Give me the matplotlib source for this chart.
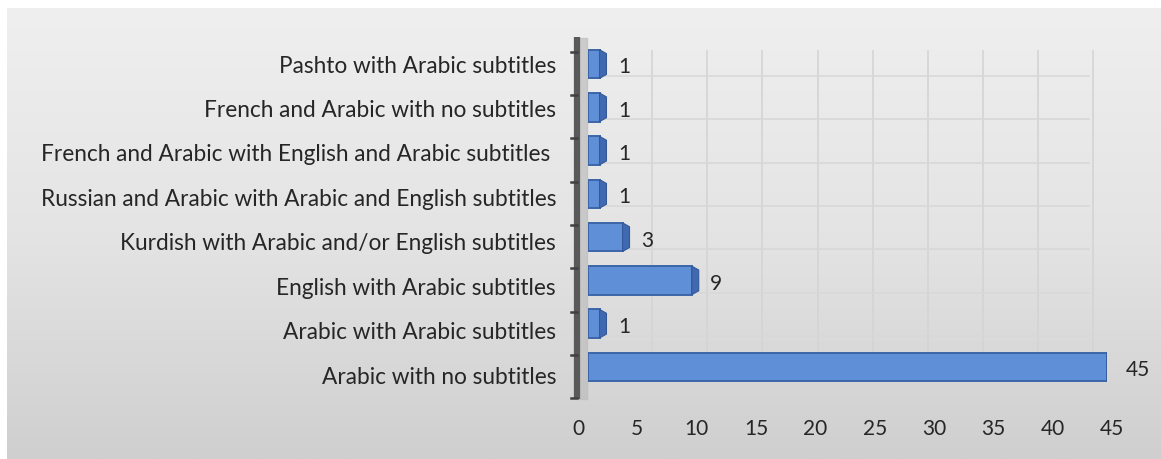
import numpy as np
import matplotlib
matplotlib.use("Agg")
import matplotlib.pyplot as plt
import matplotlib.transforms as mtransforms
from matplotlib.patches import Polygon
from matplotlib.colors import LinearSegmentedColormap

categories = [
    "Arabic with no subtitles",
    "Arabic with Arabic subtitles",
    "English with Arabic subtitles",
    "Kurdish with Arabic and/or English subtitles",
    "Russian and Arabic with Arabic and English subtitles",
    "French and Arabic with English and Arabic subtitles ",
    "French and Arabic with no subtitles",
    "Pashto with Arabic subtitles",
]
counts = [45, 1, 9, 3, 1, 1, 1, 1]
x_ticks = [0, 5, 10, 15, 20, 25, 30, 35, 40, 45]

plt.rcParams["font.family"] = ["Lato", "DejaVu Sans"]

W, H = 1161, 459
fig = plt.figure(figsize=(W / 100, H / 100), dpi=100, facecolor="white")

# grey gradient panel behind everything
bg = fig.add_axes([7 / W, 0, 1 - 7 / W, 1 - 8 / H], zorder=0)
grad = np.linspace(0, 1, 256).reshape(-1, 1)
cmap = LinearSegmentedColormap.from_list("g", ["#efefef", "#e4e4e4", "#cfcfcf"])
bg.imshow(grad, aspect="auto", cmap=cmap, extent=[0, 1, 0, 1])
bg.axis("off")

# main plotting area (bar front faces)
x0, x1 = 588, 1107
y_top, y_bot = 42.4, 388.6
ax = fig.add_axes([x0 / W, 1 - y_bot / H, (x1 - x0) / W, (y_bot - y_top) / H], zorder=2)
ax.patch.set_alpha(0)
ax.set_xlim(0, 45)
ax.set_ylim(-0.5, len(categories) - 0.5)

ypos = np.arange(len(categories))

# back wall grid (slightly offset, as in the 3-D chart)
for v in range(5, 50, 5):
    ax.plot([v * 0.955 + 0.8, v * 0.955 + 0.8], [-0.35, 7.3], color="#d4d4d4", lw=1.2, zorder=0)
for b in np.arange(-0.5, 7.5, 1.0):
    ax.plot([-0.1, 43.4], [b + 0.22, b + 0.22], color="#d8d8d8", lw=1.2, zorder=0)

# bars with a 3-D looking side face
h = 0.66
depth, lift = 0.6, 0.09
ax.barh(ypos, counts, height=h, color="#5f8fd6", edgecolor="#3d65a8", lw=1.4, zorder=3)
for y, v in zip(ypos, counts):
    side = Polygon([(v, y - h / 2), (v + depth, y - h / 2 + lift),
                    (v + depth, y + h / 2 - lift), (v, y + h / 2)],
                   closed=True, facecolor="#3f69b0", edgecolor="#34589a", lw=0.8, zorder=4)
    ax.add_patch(side)
    ax.text(v + depth + 1.0, y - 0.08, str(v), va="center", ha="left",
            fontsize=15, color="#262626", zorder=5)

ax.set_yticks(ypos)
ax.set_yticklabels(categories, fontsize=16.3, color="#262626")
ax.tick_params(axis="y", length=0, pad=23)
# labels spread a little wider than the bars (perspective)
n = len(categories)
for i, lab in enumerate(ax.get_yticklabels()):
    off = mtransforms.ScaledTranslation(0, -(n - 1 - i) * 1.15 / 100, fig.dpi_scale_trans)
    lab.set_transform(lab.get_transform() + off)
ax.set_xticks([])
for s in ax.spines.values():
    s.set_visible(False)

# left wall: thick dark axis line with ticks between categories
ax.fill_betweenx([-0.75, 7.6], -0.85, -0.05, color="#bdbdbd", alpha=0.7, zorder=1, clip_on=False)
ax.plot([-0.95, -0.95], [-0.75, 7.62], color="#595959", lw=4.5, zorder=6,
        solid_capstyle="butt", clip_on=False)
for b in np.arange(-0.5, 8.5, 1.0):
    ax.plot([-1.45, -0.95], [b - 0.22, b - 0.22], color="#404040", lw=1.8, zorder=6, clip_on=False)

# value axis labels sit on the front edge of the floor
tx = fig.add_axes([578 / W, 1 - 400 / H, (1112 - 578) / W, 0.01], zorder=3)
tx.set_xlim(0, 45)
tx.set_xticks(x_ticks)
tx.set_xticklabels([str(t) for t in x_ticks], fontsize=15, color="#262626")
tx.tick_params(axis="x", length=0, pad=14)
tx.set_yticks([])
tx.patch.set_alpha(0)
for s in tx.spines.values():
    s.set_visible(False)

fig.savefig("out.png", dpi=100, facecolor="white")
